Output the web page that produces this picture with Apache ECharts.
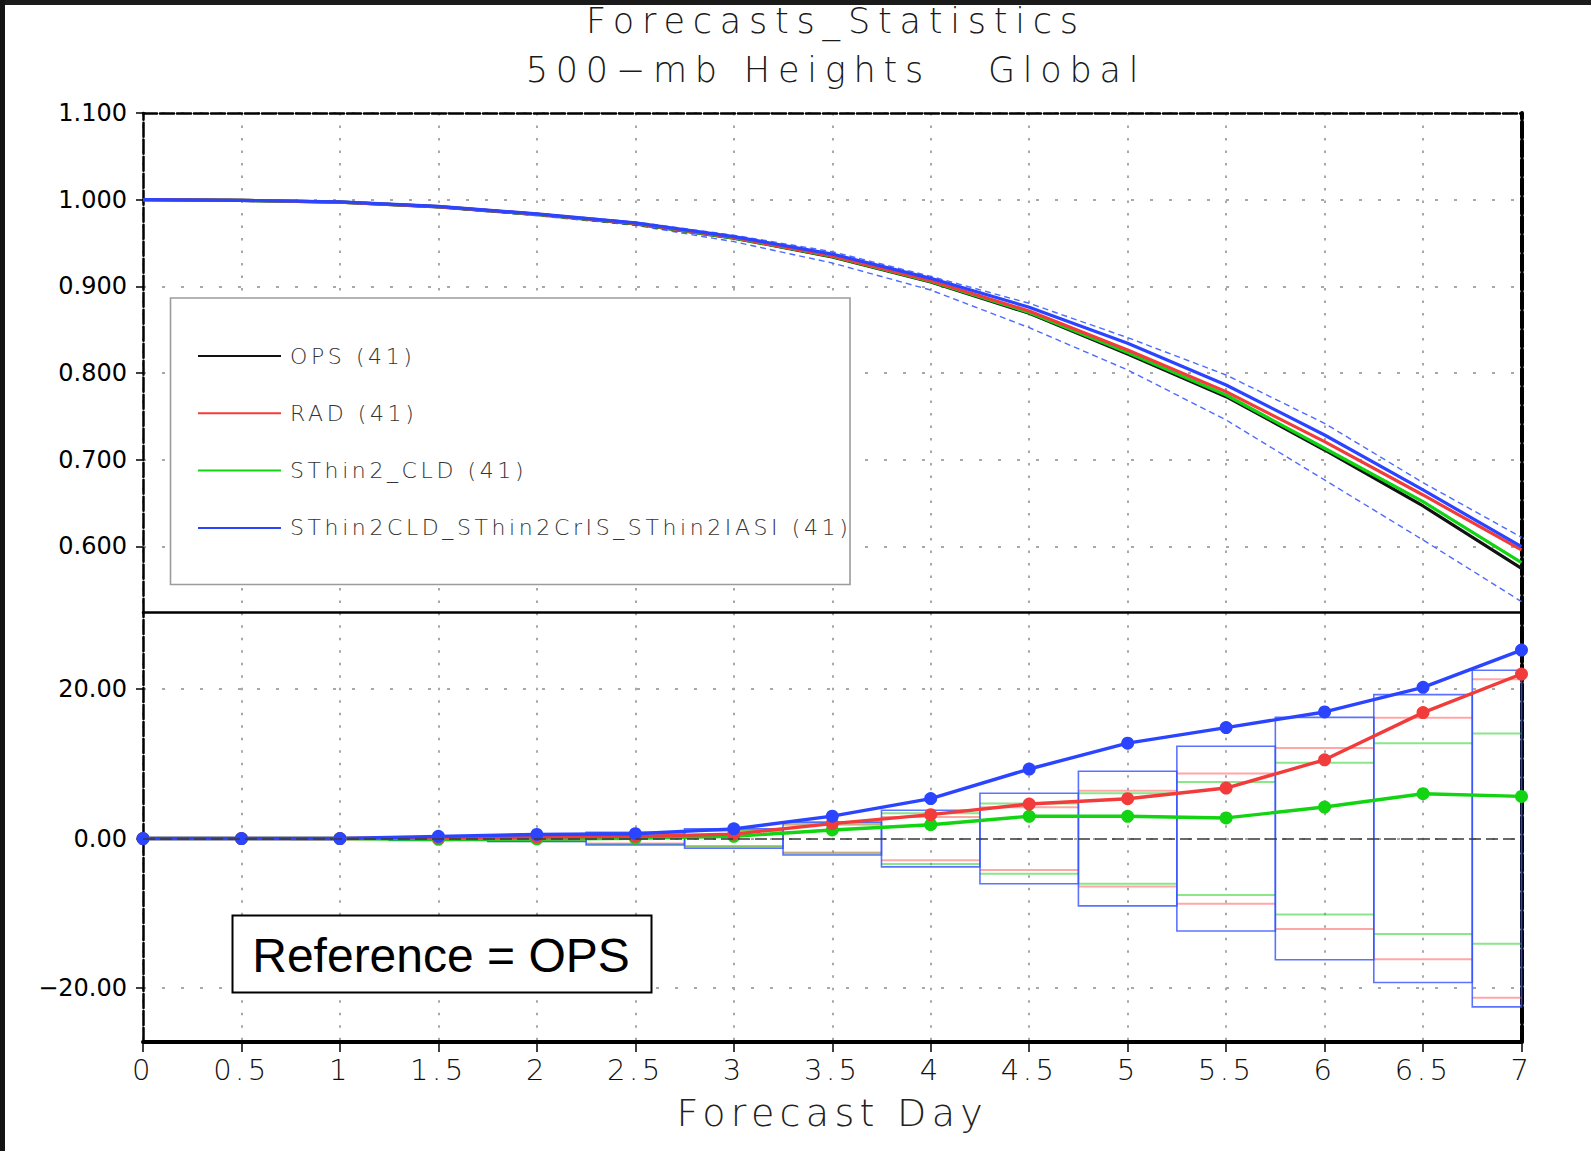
<!DOCTYPE html>
<html>
<head>
<meta charset="utf-8">
<script src="https://cdn.jsdelivr.net/npm/echarts@6/dist/echarts.min.js"></script>
<style>
  html, body { margin: 0; padding: 0; background: #ffffff; }
  #chart { width: 1591px; height: 1151px; }
</style>
</head>
<body>
<div id="chart"></div>
<script>
// Forecast day (x) for every verification time
const days = [0, 0.5, 1, 1.5, 2, 2.5, 3, 3.5, 4, 4.5, 5, 5.5, 6, 6.5, 7];

// Anomaly correlation, 500-mb heights, global
const acOPS = [1.000, 0.9993, 0.9972, 0.9918, 0.9830, 0.9722, 0.9557, 0.9340, 0.9050, 0.8690, 0.8220, 0.7728, 0.7113, 0.6467, 0.5748];
const acRAD = [1.000, 0.9993, 0.9973, 0.9920, 0.9833, 0.9727, 0.9564, 0.9352, 0.9066, 0.8716, 0.8266, 0.7786, 0.7209, 0.6594, 0.5960];
const acCLD = [1.000, 0.9993, 0.9972, 0.9919, 0.9831, 0.9724, 0.9560, 0.9346, 0.9058, 0.8700, 0.8236, 0.7747, 0.7133, 0.6517, 0.5813];
const acALL = [1.000, 0.9993, 0.9974, 0.9922, 0.9836, 0.9733, 0.9574, 0.9373, 0.9093, 0.8760, 0.8344, 0.7863, 0.7286, 0.6652, 0.5998];
const acALLUpper = [1.000, 0.9994, 0.9976, 0.9926, 0.9843, 0.9743, 0.9590, 0.9400, 0.9116, 0.8805, 0.8409, 0.7978, 0.7420, 0.6736, 0.6106];
const acALLLower = [1.000, 0.9991, 0.9968, 0.9910, 0.9815, 0.9705, 0.9516, 0.9270, 0.8958, 0.8524, 0.8036, 0.7459, 0.6767, 0.6075, 0.5364];

// Difference from the reference run (OPS)
const diffRAD = [0, 0, 0, 0.10, 0.20, 0.30, 0.60, 2.00, 3.20, 4.62, 5.33, 6.76, 10.53, 16.84, 22.00];
const diffCLD = [0, 0, 0, -0.10, -0.05, 0.05, 0.30, 1.15, 1.85, 2.98, 2.98, 2.76, 4.22, 6.00, 5.64];
const diffALL = [0, 0, 0, 0.30, 0.55, 0.65, 1.30, 3.00, 5.35, 9.30, 12.76, 14.84, 16.93, 20.22, 25.20];

// Significance half-widths of the differences
const sigALL = [0, 0.05, 0.10, 0.25, 0.40, 0.85, 1.30, 2.20, 3.78, 6.05, 9.00, 12.35, 16.20, 19.25, 22.50];
const sigRAD = [0, 0.04, 0.08, 0.18, 0.32, 0.65, 1.00, 1.85, 2.90, 4.20, 6.40, 8.70, 12.10, 16.15, 21.30];
const sigCLD = [0, 0.04, 0.09, 0.20, 0.36, 0.72, 1.10, 2.00, 3.40, 4.70, 6.05, 7.55, 10.15, 12.75, 14.05];

// Axis ticks
const dayTicks = [0, 0.5, 1, 1.5, 2, 2.5, 3, 3.5, 4, 4.5, 5, 5.5, 6, 6.5, 7];
const acTicks = [0.6, 0.7, 0.8, 0.9, 1.0, 1.1];
const diffTicks = [-20, 0, 20];

const seriesNames = ['OPS (41)', 'RAD (41)', 'SThin2_CLD (41)', 'SThin2CLD_SThin2CrIS_SThin2IASI (41)'];

const C_BLACK = '#111111';
const C_RED = '#f23c3c';
const C_GREEN = '#12d412';
const C_BLUE = '#2a44ff';

const pairs = (ys) => days.map((d, i) => [d, ys[i]]);
const FONT = '"DejaVu Sans", "Noto Sans", sans-serif';

const dottedV = { show: true, lineStyle: { color: '#a8a8a8', width: 2, type: [2.5, 10] } };
const dottedH = { show: true, lineStyle: { color: '#a8a8a8', width: 2, type: [3, 16] } };
const dashedBorder = { show: true, onZero: false, lineStyle: { color: '#000', width: 2.5, type: [14, 3] } };

const chart = echarts.init(document.getElementById('chart'), null, { renderer: 'svg' });

const halfStep = (days[1] - days[0]) / 2;

function renderSigBox(params, api) {
  const d = api.value(0), b = api.value(1), r = api.value(2), g = api.value(3);
  if (!b) return null;
  const cs = params.coordSys;
  const pTop = api.coord([d - halfStep, b]);
  const pBot = api.coord([d + halfStep, -b]);
  const x0 = Math.max(pTop[0], cs.x);
  const x1 = Math.min(pBot[0], cs.x + cs.width);
  const hline = (v, color) => {
    const y = api.coord([d, v])[1];
    return { type: 'line', shape: { x1: x0, y1: y, x2: x1, y2: y }, style: { stroke: color, lineWidth: 2 } };
  };
  return {
    type: 'group',
    children: [
      hline(r, 'rgba(255,95,95,0.55)'), hline(-r, 'rgba(255,95,95,0.55)'),
      hline(g, 'rgba(40,210,40,0.55)'), hline(-g, 'rgba(40,210,40,0.55)'),
      { type: 'rect', shape: { x: x0, y: pTop[1], width: x1 - x0, height: pBot[1] - pTop[1] },
        style: { fill: 'none', stroke: 'rgba(50,80,255,0.8)', lineWidth: 1.6 } }
    ]
  };
}

const option = {
  animation: false,
  backgroundColor: '#ffffff',
  grid: [
    { left: 143, right: 69.5, top: 113, bottom: 538.3, outerBoundsMode: 'none' },
    { left: 143, right: 69.5, top: 612.7, bottom: 109, outerBoundsMode: 'none' }
  ],
  xAxis: [
    { gridIndex: 0, type: 'value', position: 'bottom', min: 0, max: 7, interval: 0.5,
      axisLine: { show: true, onZero: false, lineStyle: { color: '#000', width: 2.5 } },
      axisTick: { show: false }, axisLabel: { show: false }, splitLine: dottedV },
    { gridIndex: 0, type: 'value', position: 'top', min: 0, max: 7, interval: 0.5,
      axisLine: dashedBorder, axisTick: { show: false }, axisLabel: { show: false }, splitLine: { show: false } },
    { gridIndex: 1, type: 'value', position: 'bottom', min: 0, max: 7, interval: 0.5,
      axisLine: { show: true, onZero: false, lineStyle: { color: '#000', width: 4 } },
      axisTick: { show: true, inside: false, length: 10, lineStyle: { color: '#000', width: 1.5 } },
      axisLabel: { show: true, margin: 13, fontSize: 29, fontFamily: FONT, fontWeight: 300, color: '#111',
        customValues: dayTicks, formatter: (v) => String(v) },
      splitLine: dottedV,
      name: 'Forecast Day', nameLocation: 'middle', nameGap: 52,
      nameTextStyle: { fontSize: 38, fontFamily: FONT, fontWeight: 300, color: '#222' } }
  ],
  yAxis: [
    { gridIndex: 0, type: 'value', position: 'left', min: 0.5236, max: 1.1,
      axisLine: dashedBorder,
      axisTick: { show: true, inside: false, length: 7, customValues: acTicks, lineStyle: { color: '#000', width: 1.5 } },
      axisLabel: { show: true, margin: 16, fontSize: 24, fontFamily: FONT, color: '#000',
        customValues: acTicks, formatter: (v) => v.toFixed(3) },
      splitLine: dottedH },
    { gridIndex: 0, type: 'value', position: 'right', min: 0.5236, max: 1.1,
      axisLine: { show: true, onZero: false, lineStyle: { color: '#000', width: 4, type: [16, 3] } },
      axisTick: { show: false }, axisLabel: { show: false }, splitLine: { show: false } },
    { gridIndex: 1, type: 'value', position: 'left', min: -27.2, max: 30.2,
      axisLine: dashedBorder,
      axisTick: { show: true, inside: false, length: 7, customValues: diffTicks, lineStyle: { color: '#000', width: 1.5 } },
      axisLabel: { show: true, margin: 16, fontSize: 24, fontFamily: FONT, color: '#000',
        customValues: diffTicks, formatter: (v) => v.toFixed(2).replace('-', '\u2212') },
      splitLine: dottedH },
    { gridIndex: 1, type: 'value', position: 'right', min: -27.2, max: 30.2,
      axisLine: { show: true, onZero: false, lineStyle: { color: '#000', width: 4, type: [16, 3] } },
      axisTick: { show: false }, axisLabel: { show: false }, splitLine: { show: false } }
  ],
  legend: {
    data: seriesNames,
    orient: 'vertical',
    left: 198, top: 345,
    padding: 0,
    itemGap: 35.3,
    itemWidth: 83, itemHeight: 2,
    icon: 'rect',
    z: 10,
    selectedMode: false,
    itemStyle: { borderWidth: 0 },
    textStyle: { fontSize: 22, lineHeight: 20, fontFamily: FONT, fontWeight: 300, color: '#333', padding: [0, 0, 0, 4] }
  },
  graphic: [
    { type: 'rect', z: 100, shape: { x: 0, y: 0, width: 1591, height: 5 }, style: { fill: '#1b1b1b' } },
    { type: 'rect', z: 100, shape: { x: 0, y: 0, width: 5, height: 1151 }, style: { fill: '#141414' } },
    { type: 'text', z: 20, x: 836, y: 21,
      style: { text: 'Forecasts_Statistics', fill: '#1a1a1a', font: '300 35px ' + FONT, textAlign: 'center', textVerticalAlign: 'middle' } },
    { type: 'text', z: 20, x: 836, y: 70,
      style: { text: '500\u2212mb Heights   Global', fill: '#1a1a1a', font: '300 35px ' + FONT, textAlign: 'center', textVerticalAlign: 'middle' } },
    { type: 'rect', z: 5, shape: { x: 170.5, y: 298, width: 679.5, height: 286.5 },
      style: { fill: '#ffffff', stroke: '#9c9c9c', lineWidth: 1.6 } },
    { type: 'rect', z: 20, shape: { x: 232.5, y: 915.5, width: 419, height: 77 },
      style: { fill: '#ffffff', stroke: '#000000', lineWidth: 2 } },
    { type: 'text', z: 21, x: 441, y: 955,
      style: { text: 'Reference = OPS', fill: '#000', font: '48px "Liberation Sans", Arial, sans-serif', textAlign: 'center', textVerticalAlign: 'middle' } }
  ],
  series: [
    // Top panel: anomaly correlation
    { name: 'upper bound', type: 'line', xAxisIndex: 0, yAxisIndex: 0, data: pairs(acALLUpper), showSymbol: false, silent: true,
      lineStyle: { color: '#4f6bff', width: 1.4, type: [6, 4] }, z: 2 },
    { name: 'lower bound', type: 'line', xAxisIndex: 0, yAxisIndex: 0, data: pairs(acALLLower), showSymbol: false, silent: true,
      lineStyle: { color: '#4f6bff', width: 1.4, type: [6, 4] }, z: 2 },
    { name: seriesNames[0], type: 'line', xAxisIndex: 0, yAxisIndex: 0, data: pairs(acOPS), showSymbol: false,
      color: C_BLACK, lineStyle: { color: C_BLACK, width: 3.2 }, z: 3 },
    { name: seriesNames[2], type: 'line', xAxisIndex: 0, yAxisIndex: 0, data: pairs(acCLD), showSymbol: false,
      color: C_GREEN, lineStyle: { color: C_GREEN, width: 3.2 }, z: 3 },
    { name: seriesNames[1], type: 'line', xAxisIndex: 0, yAxisIndex: 0, data: pairs(acRAD), showSymbol: false,
      color: C_RED, lineStyle: { color: C_RED, width: 3.2 }, z: 3 },
    { name: seriesNames[3], type: 'line', xAxisIndex: 0, yAxisIndex: 0, data: pairs(acALL), showSymbol: false,
      color: C_BLUE, lineStyle: { color: C_BLUE, width: 3.2 }, z: 3 },

    // Bottom panel: significance boxes and zero line
    { name: 'significance', type: 'custom', xAxisIndex: 2, yAxisIndex: 2, silent: true, z: 2,
      data: days.map((d, i) => [d, sigALL[i], sigRAD[i], sigCLD[i]]),
      encode: { x: 0, y: 1 },
      renderItem: renderSigBox,
      markLine: { silent: true, symbol: ['none', 'none'], label: { show: false },
        lineStyle: { color: '#3a3a3a', width: 1.6, type: [12, 5] }, data: [{ yAxis: 0 }] } },

    // Bottom panel: differences
    { name: seriesNames[2], type: 'line', xAxisIndex: 2, yAxisIndex: 2, data: pairs(diffCLD),
      symbol: 'circle', symbolSize: 13, color: C_GREEN, lineStyle: { color: C_GREEN, width: 3.4 }, z: 4 },
    { name: seriesNames[1], type: 'line', xAxisIndex: 2, yAxisIndex: 2, data: pairs(diffRAD),
      symbol: 'circle', symbolSize: 13, color: C_RED, lineStyle: { color: C_RED, width: 3.4 }, z: 4 },
    { name: seriesNames[3], type: 'line', xAxisIndex: 2, yAxisIndex: 2, data: pairs(diffALL),
      symbol: 'circle', symbolSize: 13, color: C_BLUE, lineStyle: { color: C_BLUE, width: 3.4 }, z: 4 }
  ]
};

chart.setOption(option);

// Wide, evenly spaced lettering for the plot-style text
const spacingBySize = { '35px': '7.8px', '22px': '3.6px', '29px': '3.5px', '38px': '5.3px' };
function applySpacing() {
  document.querySelectorAll('#chart svg text').forEach((t) => {
    const s = spacingBySize[getComputedStyle(t).fontSize];
    if (s) t.style.letterSpacing = s;
  });
}
chart.on('finished', applySpacing);
applySpacing();
</script>
</body>
</html>
